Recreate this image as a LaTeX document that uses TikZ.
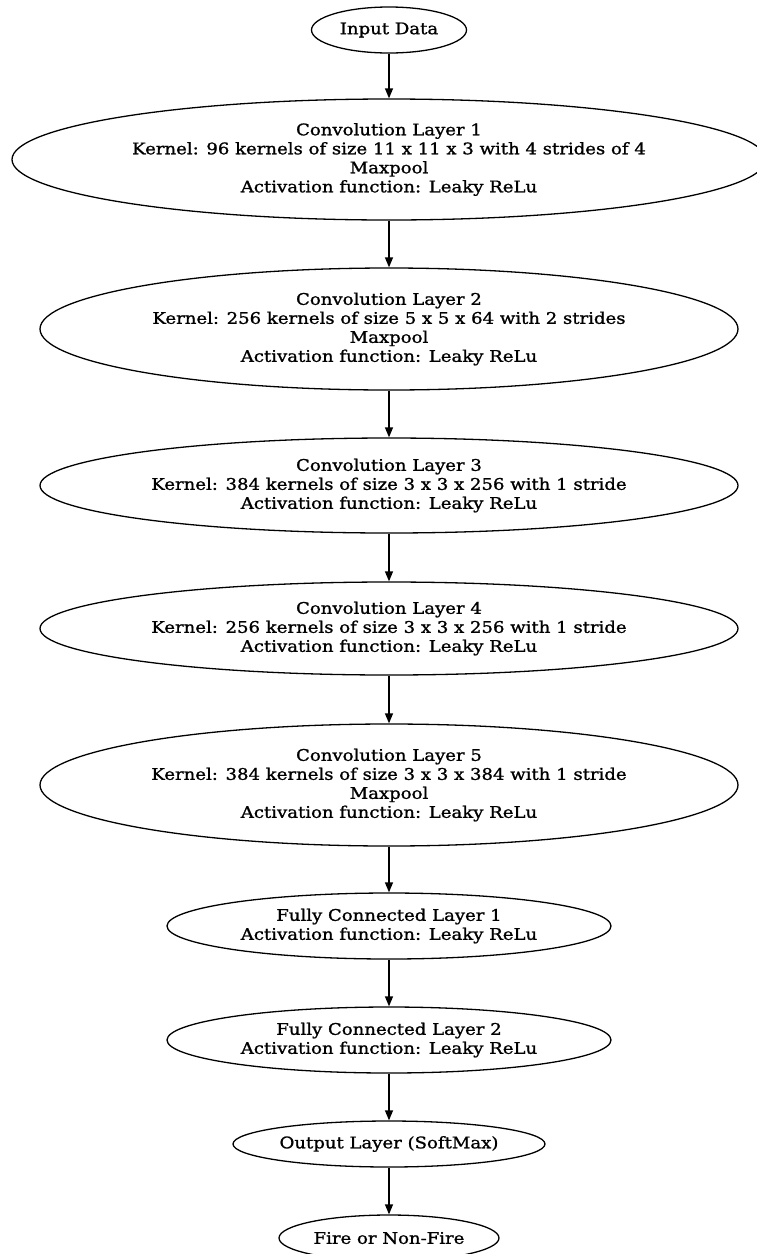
\documentclass[tikz,border=0pt]{standalone}
\usepackage{fontspec}
\setmainfont{DejaVu Serif}[FakeStretch=1.13,FakeBold=1.2]
\usetikzlibrary{shapes.geometric,arrows.meta}
\begin{document}
\begin{tikzpicture}[x=1pt,y=-1pt,
  layer/.style={draw=black, line width=1.3pt, ellipse, inner sep=0pt, align=center,
    font=\fontsize{16}{19}\selectfont},
  flow/.style={draw=black, line width=1.3pt, -{Triangle[length=10pt,width=8pt]}}]
\useasboundingbox (0,0) rectangle (756,1254);
\node[layer, minimum width=155pt, minimum height=46pt] (in) at (389,30) {Input Data};
\node[layer, minimum width=754pt, minimum height=121pt] (c1) at (389,159.5)
  {Convolution Layer 1\\Kernel: 96 kernels of size 11 x 11 x 3 with 4 strides of 4\\Maxpool\\Activation function: Leaky ReLu};
\node[layer, minimum width=698pt, minimum height=122pt] (c2) at (389,329)
  {Convolution Layer 2\\Kernel: 256 kernels of size 5 x 5 x 64 with 2 strides\\Maxpool\\Activation function: Leaky ReLu};
\node[layer, minimum width=698pt, minimum height=95pt] (c3) at (389,485.5)
  {Convolution Layer 3\\Kernel: 384 kernels of size 3 x 3 x 256 with 1 stride\\Activation function: Leaky ReLu};
\node[layer, minimum width=698pt, minimum height=93pt] (c4) at (389,628.5)
  {Convolution Layer 4\\Kernel: 256 kernels of size 3 x 3 x 256 with 1 stride\\Activation function: Leaky ReLu};
\node[layer, minimum width=698pt, minimum height=122pt] (c5) at (389,785)
  {Convolution Layer 5\\Kernel: 384 kernels of size 3 x 3 x 384 with 1 stride\\Maxpool\\Activation function: Leaky ReLu};
\node[layer, minimum width=444pt, minimum height=66pt] (f1) at (389,926)
  {Fully Connected Layer 1\\Activation function: Leaky ReLu};
\node[layer, minimum width=444pt, minimum height=66pt] (f2) at (389,1040)
  {Fully Connected Layer 2\\Activation function: Leaky ReLu};
\node[layer, minimum width=312pt, minimum height=46pt] (out) at (389,1144) {Output Layer (SoftMax)};
\node[layer, minimum width=220pt, minimum height=46pt] (fire) at (389,1238) {Fire or Non-Fire};
\draw[flow] (in) -- (c1);
\draw[flow] (c1) -- (c2);
\draw[flow] (c2) -- (c3);
\draw[flow] (c3) -- (c4);
\draw[flow] (c4) -- (c5);
\draw[flow] (c5) -- (f1);
\draw[flow] (f1) -- (f2);
\draw[flow] (f2) -- (out);
\draw[flow] (out) -- (fire);
\end{tikzpicture}
\end{document}
